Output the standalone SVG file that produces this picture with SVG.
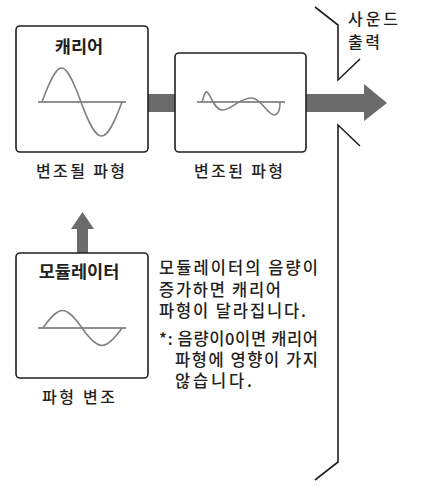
<svg xmlns="http://www.w3.org/2000/svg" width="431" height="498" viewBox="0 0 431 498">
<style>
.box{fill:#fff;stroke:#231f20;stroke-width:1.6}
.ax{stroke:#231f20;stroke-width:1;fill:none}
.wv{stroke:#808080;stroke-width:1.6;fill:none}
.ln{stroke:#231f20;stroke-width:1.6;fill:none}
.arr{fill:#6b6b6b}
text{font-family:"Noto Sans CJK KR","Noto Sans",sans-serif;fill:#231f20}
.t{font-size:16px;font-weight:500}
.n{font-size:16.5px;font-weight:500}
.b{font-size:17.5px;font-weight:bold;text-anchor:middle}
</style>
<rect width="431" height="498" fill="#fff"/>
<g id="connectors">
<rect class="arr" x="147" y="94" width="29" height="18"/>
<path class="arr" d="M305,94 H364 V84 L387,103 L364,121 V112 H305 Z"/>
<path class="arr" d="M77,253 V229 H71 L82.5,212 L94,229 H88 V253 Z"/>
</g>
<g id="carrier">
<rect class="box" x="16" y="26" width="132" height="126" rx="4"/>
<text class="b" x="79" y="53">캐리어</text>
<line class="ax" x1="38" y1="102" x2="126" y2="102"/>
<path class="wv" d="M42,102 C58.6,56.7 64.4,56.7 81,102 C97.6,147.3 105.4,147.3 122,102"/>
<text class="t" x="36" y="177" textLength="89" lengthAdjust="spacing">변조될 파형</text>
</g>
<g id="modulated">
<rect class="box" x="175" y="53" width="131" height="99" rx="4"/>
<line class="ax" x1="197" y1="102" x2="285" y2="102"/>
<path class="wv" d="M202,102 C204,96 205,91 207,92 C210,93 214,110 222,110 C232,110 240,97 252,98 C262,99 268,116 275,115 C279,114 280,108 280,102"/>
<text class="t" x="194" y="177" textLength="89" lengthAdjust="spacing">변조된 파형</text>
</g>
<g id="modulator">
<rect class="box" x="16" y="253" width="132" height="125" rx="4"/>
<text class="b" x="79" y="278">모듈레이터</text>
<line class="ax" x1="38" y1="328" x2="126" y2="328"/>
<path class="wv" d="M43,328 C59.6,304.7 65.4,304.7 82,328 C98.6,351.3 105.4,351.3 122,328"/>
<text class="t" x="42" y="403" textLength="73" lengthAdjust="spacing">파형 변조</text>
</g>
<g id="output">
<path class="ln" d="M315,7 L338,25 V80 L360,59"/>
<path class="ln" d="M360,146 L338,125 V462 L315,480"/>
<text class="t" x="348" y="25" textLength="50" lengthAdjust="spacing">사운드</text>
<text class="t" x="348" y="48" textLength="32" lengthAdjust="spacing">출력</text>
</g>
<g id="note">
<text class="n" x="159" y="274" textLength="159" lengthAdjust="spacing">모듈레이터의 음량이</text>
<text class="n" x="159" y="296" textLength="122" lengthAdjust="spacing">증가하면 캐리어</text>
<text class="n" x="159" y="317" textLength="147" lengthAdjust="spacing">파형이 달라집니다.</text>
<text class="n" x="159" y="345" textLength="159" lengthAdjust="spacing">*: 음량이0이면 캐리어</text>
<text class="n" x="175" y="366" textLength="143" lengthAdjust="spacing">파형에 영향이 가지</text>
<text class="n" x="175" y="387" textLength="77" lengthAdjust="spacing">않습니다.</text>
</g>
</svg>
